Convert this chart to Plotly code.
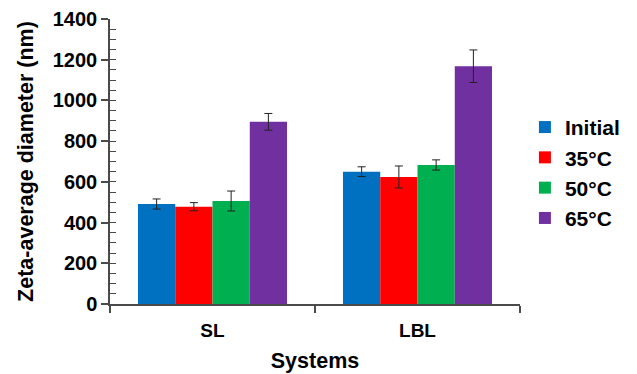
import plotly.graph_objects as go

systems = ["SL", "LBL"]
series_names = ["Initial", "35°C", "50°C", "65°C"]
initial = [491, 650]
c35 = [478, 624]
c50 = [506, 683]
c65 = [895, 1168]
initial_err = [25, 24]
c35_err = [20, 54]
c50_err = [49, 25]
c65_err = [41, 80]
y_ticks = [0, 200, 400, 600, 800, 1000, 1200, 1400]

colors = ["#0070C0", "#FF0000", "#00B050", "#7030A0"]
values = [initial, c35, c50, c65]
errors = [initial_err, c35_err, c50_err, c65_err]

FONT = "Liberation Sans, Arial, sans-serif"
AXC = "#4a4a4a"

fig = go.Figure()
for name, v, e, c in zip(series_names, values, errors, colors):
    fig.add_trace(go.Bar(
        x=systems, y=v, name=name,
        marker=dict(color=c, line=dict(width=0)),
        error_y=dict(type="data", array=e, visible=True, color="#222222", thickness=1, width=4),
    ))

# helper trace for the inside minor-tick axis
fig.add_trace(go.Scatter(x=systems, y=[None, None], yaxis="y2", showlegend=False, hoverinfo="skip"))

fig.update_layout(
    width=637, height=374,
    margin=dict(l=110, r=95, t=19, b=70),
    paper_bgcolor="white", plot_bgcolor="white",
    barmode="group", bargap=0.273, bargroupgap=0,
    font=dict(family=FONT, color="#000000"),
    showlegend=True,
    legend=dict(x=1.012, y=0.46, xanchor="left", yanchor="middle",
                font=dict(family=FONT, size=21, weight="bold"),
                bgcolor="rgba(0,0,0,0)", itemwidth=30),
    xaxis=dict(
        type="category", range=[-0.5, 1.5], automargin=False,
        showline=True, linecolor=AXC, linewidth=1.5,
        ticks="outside", tickson="boundaries", ticklen=7, tickcolor=AXC, tickwidth=1.5,
        tickfont=dict(family=FONT, size=19, weight="bold"),
        ticklabelstandoff=8,
        title=dict(text="Systems", font=dict(family=FONT, size=21.5, weight="bold"), standoff=13),
        showgrid=False, zeroline=False,
    ),
    yaxis=dict(
        range=[0, 1400], tickvals=y_ticks, automargin=False,
        showline=True, linecolor=AXC, linewidth=1.5,
        ticks="outside", ticklen=7, tickcolor=AXC, tickwidth=1.5,
        tickfont=dict(family=FONT, size=20, weight="bold"),
        title=dict(text="Zeta-average diameter (nm)", font=dict(family=FONT, size=21.5, weight="bold"), standoff=13),
        showgrid=False, zeroline=False,
    ),
    yaxis2=dict(
        overlaying="y", side="left", range=[0, 1400], dtick=50, automargin=False,
        ticks="inside", ticklen=6, tickcolor=AXC, tickwidth=1,
        showticklabels=False, showgrid=False, zeroline=False, showline=False,
    ),
)

fig.write_html("out.html")
